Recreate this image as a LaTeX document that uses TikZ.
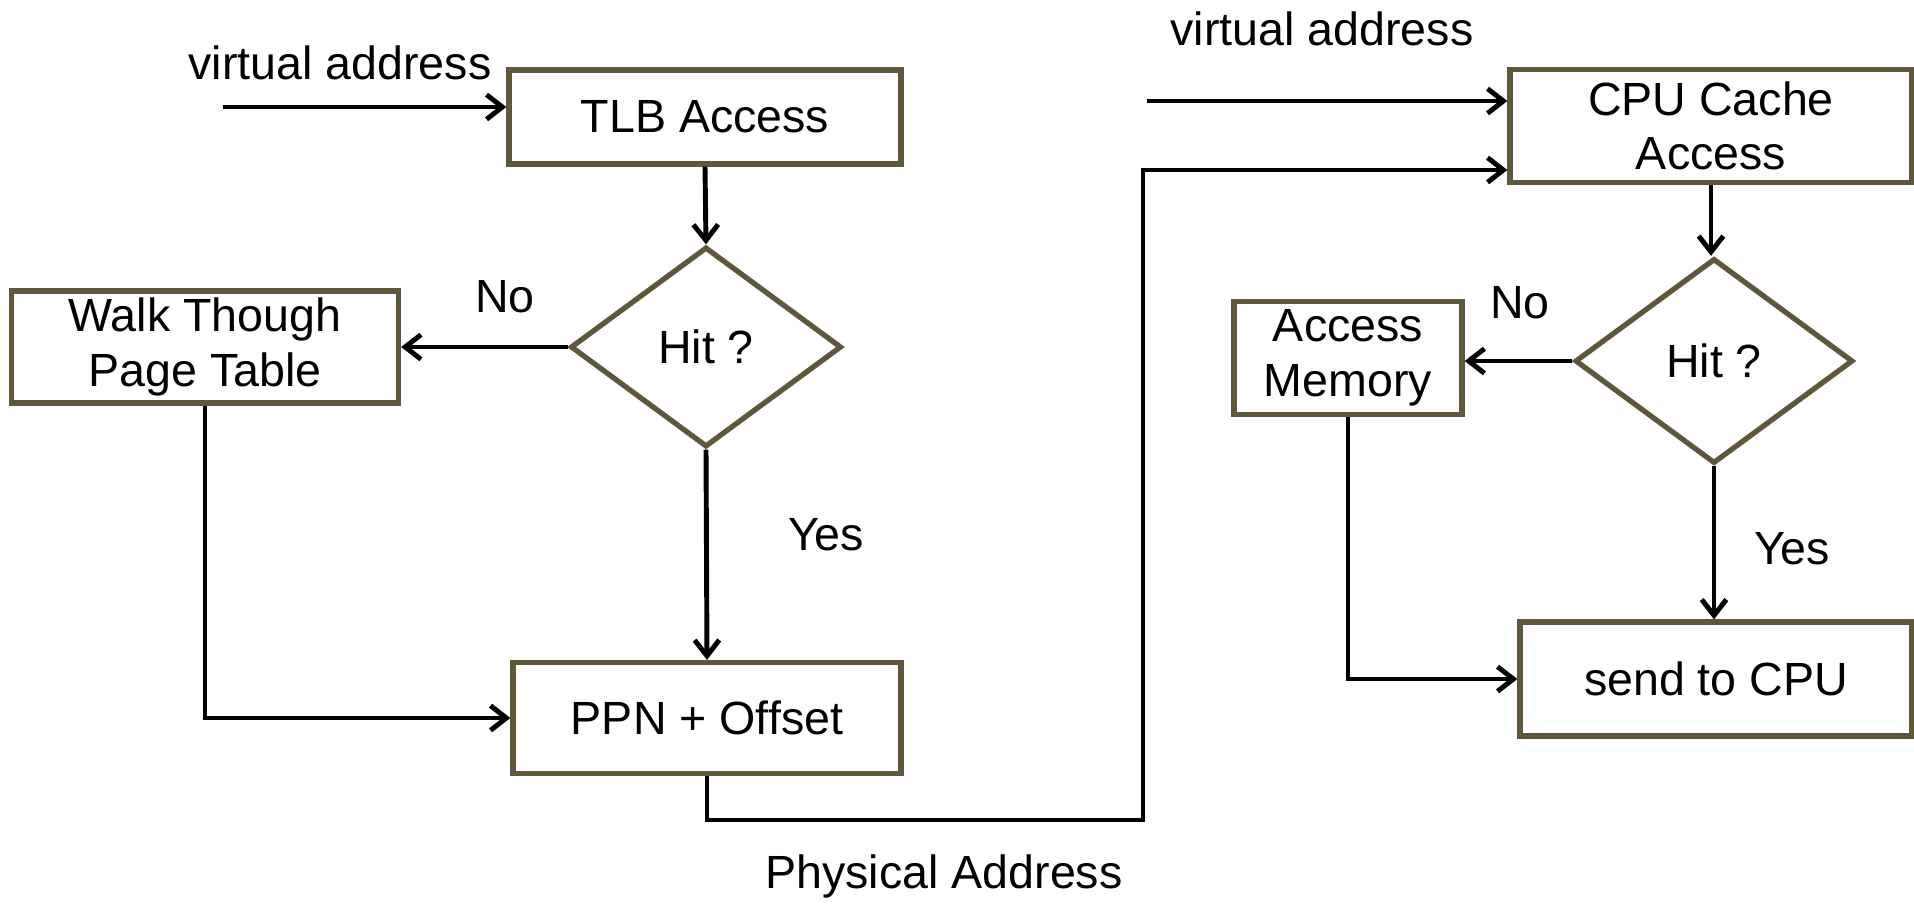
\documentclass[tikz,border=0pt]{standalone}
\usepackage{fontspec}
\setmainfont{Liberation Sans}
\usetikzlibrary{shapes.geometric,arrows.meta,positioning,calc}
\definecolor{boxline}{RGB}{94,87,58}

\begin{document}
\begin{tikzpicture}[>={Straight Barb[length=9pt,width=14pt]},
  font=\fontsize{26.5}{31}\selectfont,
  box/.style={draw=boxline, line width=3pt, rectangle, fill=white, align=center, inner sep=0pt},
  decision/.style={draw=boxline, line width=3pt, diamond, align=center, inner sep=0pt},
  flow/.style={->, line width=2.8pt, black}]

\useasboundingbox (0,0) rectangle (38.28,18.06);

% Translation side
\node[box, minimum width=7.84cm, minimum height=1.88cm] (tlb) at (14.10, 15.72) {TLB Access};
\node[decision, minimum width=5.42cm, minimum height=4.0cm, aspect=1.355] (hit1) at (14.12, 11.12) {Hit ?};
\node[box, minimum width=7.74cm, minimum height=2.24cm] (walk) at (4.10, 11.12) {Walk Though\\Page Table};
\node[box, minimum width=7.76cm, minimum height=2.22cm] (ppn) at (14.14, 3.70) {PPN + Offset};

% Cache side
\node[box, minimum width=8.04cm, minimum height=2.26cm] (cache) at (34.22, 15.54) {CPU Cache\\Access};
\node[decision, minimum width=5.56cm, minimum height=4.10cm, aspect=1.356] (hit2) at (34.28, 10.84) {Hit ?};
\node[box, minimum width=4.56cm, minimum height=2.26cm] (mem) at (26.96, 10.90) {Access\\Memory};
\node[box, minimum width=7.84cm, minimum height=2.28cm] (send) at (34.32, 4.48) {send to CPU};

% Labels
\node (vaddr1) at (6.80, 16.80) {virtual address};
\node (vaddr2) at (26.44, 17.48) {virtual address};
\node (no1) at (10.10, 12.12) {No};
\node (yes1) at (16.52, 7.36) {Yes};
\node (no2) at (30.40, 12.00) {No};
\node (yes2) at (35.84, 7.08) {Yes};
\node (paddr) at (18.88, 0.54) {Physical Address};

% Free ends and bends
\coordinate (in1) at (4.46, 15.92);
\coordinate (in2) at (22.94, 16.04);
\coordinate (pbend) at (22.86, 1.66);

% Connections
\draw[flow] (in1) -- (in1 -| tlb.west);
\draw[flow] (tlb.south) -- (hit1.north);
\draw[flow] (hit1.west) -- (walk.east);
\draw[flow] (hit1.south) -- (ppn.north);
\draw[flow] (walk.south) |- (ppn.west);
\draw[flow] (ppn.south) |- (pbend) |- ($(cache.west)+(0,-0.88)$);
\draw[flow] (in2) -- (in2 -| cache.west);
\draw[flow] (cache.south) -- (cache.south |- hit2.north);
\draw[flow] (hit2.west) -- (hit2.west -| mem.east);
\draw[flow] (hit2.south) -- (hit2.south |- send.north);
\draw[flow] (mem.south) |- (send.west);

\end{tikzpicture}
\end{document}
